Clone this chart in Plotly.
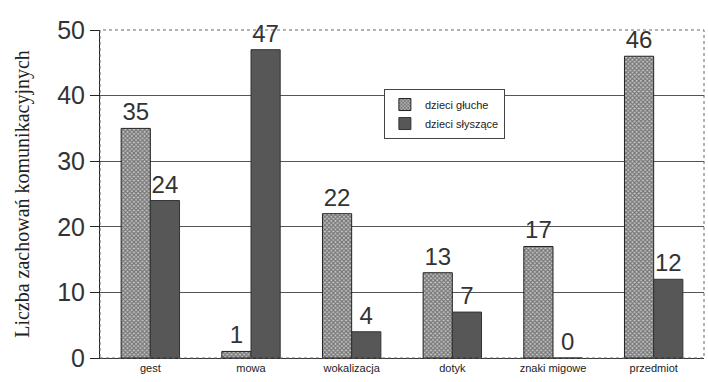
import plotly.graph_objects as go

categories = ["gest", "mowa", "wokalizacja", "dotyk", "znaki migowe", "przedmiot"]
gluche = [35, 1, 22, 13, 17, 46]
slyszace = [24, 47, 4, 7, 0, 12]
series_names = ["dzieci głuche", "dzieci słyszące"]
y_title = "Liczba zachowań komunikacyjnych"
y_ticks = [0, 10, 20, 30, 40, 50]

fig = go.Figure()
fig.add_trace(go.Bar(
    x=categories, y=gluche, name=series_names[0],
    text=[str(v) for v in gluche], textposition="outside",
    textfont=dict(size=24, color="#333", family="Liberation Sans, Arial"),
    marker=dict(color="#ffffff", line=dict(color="#222", width=1),
                pattern=dict(shape="x", fgcolor="#222", bgcolor="#c4c4c4", size=3, solidity=0.6)),
    cliponaxis=False,
))
fig.add_trace(go.Bar(
    x=categories, y=slyszace, name=series_names[1],
    text=[str(v) for v in slyszace], textposition="outside",
    textfont=dict(size=24, color="#333", family="Liberation Sans, Arial"),
    marker=dict(color="#575757", line=dict(color="#333", width=1)),
    cliponaxis=False,
))

fig.update_layout(
    width=708, height=382,
    margin=dict(l=100, r=4, t=30, b=24),
    paper_bgcolor="white", plot_bgcolor="white",
    barmode="group", bargap=0.42, bargroupgap=0.0,
    showlegend=True,
    legend=dict(x=0.47, y=0.82, xanchor="left", yanchor="top",
                bordercolor="#444", borderwidth=1, bgcolor="white",
                font=dict(size=11, family="Liberation Sans, Arial", color="#222"),
                tracegroupgap=2, itemwidth=30),
    font=dict(family="Liberation Sans, Arial", color="#333"),
)
fig.update_xaxes(
    showline=True, linecolor="#333", linewidth=1, mirror=False,
    tickfont=dict(size=11, color="#222"), ticks="", showgrid=False,
)
fig.update_yaxes(
    range=[0, 50], tickvals=y_ticks, showline=True, linecolor="#222", linewidth=1,
    ticks="outside", ticklen=9, tickcolor="#222",
    tickfont=dict(size=25, color="#333"),
    showgrid=True, gridcolor="#555", gridwidth=1, zeroline=False,
    title=dict(text=y_title, font=dict(family="Liberation Serif, Times New Roman", size=20, color="#222"), standoff=22),
)
fig.add_shape(type="rect", xref="paper", yref="paper", x0=0, y0=0, x1=1, y1=1,
              line=dict(color="#666", width=1, dash="dot"), layer="above")

fig.write_html("out.html")
